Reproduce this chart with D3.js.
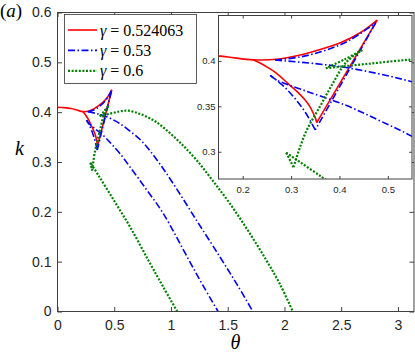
<!DOCTYPE html>
<html lang="en">
<head>
<meta charset="UTF-8">
<title>k vs theta</title>
<script src="https://d3js.org/d3.v7.min.js"></script>
<style>
  body { margin: 0; background: #fff; }
  .tick text { font-family: "Liberation Sans", Arial, sans-serif; fill: #262626; }
  .tick line { stroke: #404040; }
  .frame { fill: none; stroke: #404040; stroke-width: 1; }
  .math { font-family: "Liberation Serif", "DejaVu Serif", serif; fill: #000; }
</style>
</head>
<body>
<svg width="415" height="354" id="chart"></svg>
<script>
// values
var gammaLabels = ["0.524063", "0.53", "0.6"];
var thetaTicks = [0, 0.5, 1, 1.5, 2, 2.5, 3];
var kTicks = [0, 0.1, 0.2, 0.3, 0.4, 0.5, 0.6];
var insetThetaTicks = [0.2, 0.3, 0.4, 0.5];
var insetKTicks = [0.3, 0.35, 0.4];

// each branch = smooth piece between two cusps, points are [theta, k]
var redBranches = [
    [[0, 0.410], [0.06, 0.4092], [0.12, 0.4072], [0.17, 0.4043], [0.222, 0.4012], [0.27, 0.4018],
     [0.319, 0.4065], [0.36, 0.4125], [0.402, 0.420], [0.443, 0.431], [0.478, 0.445]],
    [[0.478, 0.445], [0.353, 0.332]],
    [[0.353, 0.332], [0.351, 0.336], [0.347, 0.341], [0.339, 0.3496], [0.329, 0.357], [0.312, 0.3665],
     [0.295, 0.3745], [0.27, 0.3864], [0.25, 0.3935], [0.222, 0.4012]]
];
var blueBranches = [
    [[0.267, 0.401], [0.35, 0.397], [0.41, 0.393], [0.48, 0.386], [0.55, 0.377], [0.639, 0.362],
     [0.75, 0.340], [0.88, 0.303], [1.019, 0.257], [1.225, 0.183], [1.43, 0.110], [1.58, 0.055], [1.722, 0]],
    [[0.267, 0.401], [0.32, 0.4045], [0.37, 0.4115], [0.42, 0.4225], [0.475, 0.442]],
    [[0.475, 0.442], [0.35, 0.324]],
    [[0.35, 0.324], [0.33, 0.343], [0.309, 0.358], [0.285, 0.372], [0.257, 0.384]],
    [[0.257, 0.384], [0.27, 0.379], [0.33, 0.367], [0.412, 0.3514], [0.48, 0.335], [0.55, 0.317],
     [0.639, 0.290], [0.78, 0.246], [0.931, 0.197], [1.151, 0.106], [1.28, 0.053], [1.415, 0]]
];
var greenBranches = [
    [[1.055, 0], [0.93, 0.05], [0.8, 0.103], [0.639, 0.170], [0.5, 0.222], [0.364, 0.272], [0.29, 0.299]],
    [[0.29, 0.299], [0.305, 0.283]],
    [[0.305, 0.283], [0.33, 0.321], [0.36, 0.35], [0.385, 0.374], [0.414, 0.3985], [0.447, 0.412]],
    [[0.447, 0.412], [0.41, 0.4015], [0.372, 0.392]],
    [[0.372, 0.392], [0.457, 0.3967], [0.55, 0.4015], [0.62, 0.403], [0.72, 0.397], [0.844, 0.384],
     [0.95, 0.366], [1.08, 0.339], [1.225, 0.304], [1.37, 0.262], [1.518, 0.217], [1.68, 0.162],
     [1.84, 0.103], [1.96, 0.055], [2.074, 0]]
];

var series = [
    {branches: redBranches, color: "#ff0000", dash: null, width: 1.6},
    {branches: blueBranches, color: "#0000ff", dash: "7,2.5,1.5,2.5", width: 1.6},
    {branches: greenBranches, color: "#008000", dash: "2,1.6", width: 2.2}
];

var svg = d3.select("#chart");

function drawPanel(g, x, y, clipId, xt, yt, fontSize, tickLen, padX, padY) {
    g.append("rect")
        .attr("x", x.range()[0]).attr("y", y.range()[1])
        .attr("width", x.range()[1] - x.range()[0])
        .attr("height", y.range()[0] - y.range()[1])
        .attr("fill", "#fff");

    g.append("clipPath").attr("id", clipId).append("rect")
        .attr("x", x.range()[0]).attr("y", y.range()[1])
        .attr("width", x.range()[1] - x.range()[0])
        .attr("height", y.range()[0] - y.range()[1]);

    var line = d3.line()
        .x(function (d) { return x(d[0]); })
        .y(function (d) { return y(d[1]); })
        .curve(d3.curveCatmullRom.alpha(0.5));

    var curves = g.append("g").attr("clip-path", "url(#" + clipId + ")");
    series.forEach(function (s) {
        curves.selectAll(null)
            .data(s.branches)
            .enter().append("path")
            .attr("d", line)
            .attr("fill", "none")
            .attr("stroke", s.color)
            .attr("stroke-width", s.width)
            .attr("stroke-dasharray", s.dash);
    });

    var fmt = function (d) { return String(d); };
    g.append("g")
        .attr("transform", "translate(0," + y.range()[0] + ")")
        .call(d3.axisBottom(x).tickValues(xt).tickSize(-tickLen).tickPadding(padX).tickFormat(fmt))
        .call(function (a) { a.select(".domain").remove(); })
        .selectAll("text").attr("font-size", fontSize);
    g.append("g")
        .attr("transform", "translate(0," + y.range()[1] + ")")
        .call(d3.axisTop(x).tickValues(xt).tickSize(-tickLen).tickFormat(""))
        .select(".domain").remove();
    g.append("g")
        .attr("transform", "translate(" + x.range()[0] + ",0)")
        .call(d3.axisLeft(y).tickValues(yt).tickSize(-tickLen).tickPadding(padY).tickFormat(fmt))
        .call(function (a) { a.select(".domain").remove(); })
        .selectAll("text").attr("font-size", fontSize);
    g.append("g")
        .attr("transform", "translate(" + x.range()[1] + ",0)")
        .call(d3.axisRight(y).tickValues(yt).tickSize(-tickLen).tickFormat(""))
        .select(".domain").remove();

    g.append("rect").attr("class", "frame")
        .attr("x", x.range()[0]).attr("y", y.range()[1])
        .attr("width", x.range()[1] - x.range()[0])
        .attr("height", y.range()[0] - y.range()[1]);
}

// main axes
var x = d3.scaleLinear().domain([0, Math.PI]).range([57.5, 414]);
var y = d3.scaleLinear().domain([0, 0.6]).range([311.5, 12.5]);
drawPanel(svg.append("g"), x, y, "clipMain", thetaTicks, kTicks, 14, 4.5, 9, 6);

// inset
var ix = d3.scaleLinear().domain([0.15, 0.55]).range([218.5, 412]);
var iy = d3.scaleLinear().domain([0.27, 0.45]).range([179, 15.5]);
drawPanel(svg.append("g"), ix, iy, "clipInset", insetThetaTicks, insetKTicks, 9.5, 3, 7, 3);

// legend
var legend = svg.append("g");
legend.append("rect")
    .attr("x", 64.5).attr("y", 14.5).attr("width", 132).attr("height", 69)
    .attr("fill", "#fff").attr("stroke", "#333").attr("stroke-width", 0.8);
var rows = legend.selectAll(".row")
    .data(series)
    .enter().append("g")
    .attr("class", "row")
    .attr("transform", function (d, i) { return "translate(0," + (30 + i * 20.4) + ")"; });
rows.append("line")
    .attr("x1", 68).attr("x2", 97)
    .attr("stroke", function (d) { return d.color; })
    .attr("stroke-width", function (d) { return d.width; })
    .attr("stroke-dasharray", function (d) { return d.dash; });
var lt = rows.append("text")
    .attr("class", "math")
    .attr("x", 100).attr("y", 5.5)
    .attr("font-size", 16);
lt.append("tspan").attr("font-style", "italic").text("\u03b3");
lt.append("tspan").text(function (d, i) { return " = " + gammaLabels[i]; });

// axis labels
svg.append("text").attr("class", "math")
    .attr("x", 15).attr("y", 155)
    .attr("font-size", 20).attr("font-style", "italic")
    .text("k");
svg.append("text").attr("class", "math")
    .attr("x", 235.5).attr("y", 349)
    .attr("text-anchor", "middle")
    .attr("font-size", 20).attr("font-style", "italic")
    .text("\u03b8");
var tag = svg.append("text").attr("class", "math")
    .attr("x", 0).attr("y", 17)
    .attr("font-size", 19);
tag.append("tspan").text("(");
tag.append("tspan").attr("font-style", "italic").text("a");
tag.append("tspan").text(")");
</script>
</body>
</html>
